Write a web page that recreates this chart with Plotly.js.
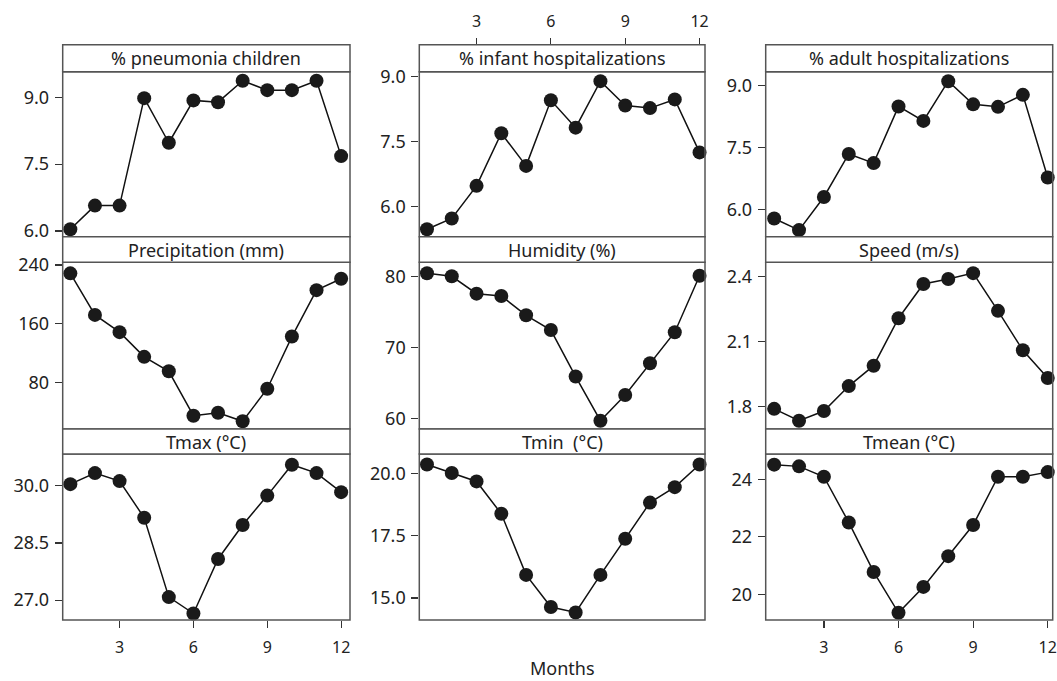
<!DOCTYPE html>
<html>
<head>
<meta charset="utf-8">
<script src="https://cdn.plot.ly/plotly-3.0.1.min.js"></script>
<style>html,body{margin:0;padding:0;background:#fff;}#chart{width:1057px;height:681px;}</style>
</head>
<body>
<div id="chart"></div>
<script>
// ---- data ----
const months = [1, 2, 3, 4, 5, 6, 7, 8, 9, 10, 11, 12];
const pneumoniaChildren = [6.04, 6.57, 6.57, 8.98, 7.98, 8.93, 8.89, 9.37, 9.16, 9.16, 9.37, 7.68];
const infantHosp = [5.48, 5.73, 6.48, 7.69, 6.94, 8.45, 7.82, 8.89, 8.33, 8.27, 8.47, 7.25];
const adultHosp = [5.78, 5.50, 6.30, 7.34, 7.12, 8.49, 8.14, 9.10, 8.54, 8.48, 8.77, 6.77];
const precipitation = [228.7, 172.2, 148.7, 115.1, 95.5, 35.1, 39.2, 27.5, 71.8, 142.7, 205.8, 221.4];
const humidity = [80.48, 80.05, 77.6, 77.27, 74.55, 72.46, 65.9, 59.66, 63.29, 67.78, 72.16, 80.14];
const speed = [1.79, 1.735, 1.78, 1.895, 1.989, 2.208, 2.366, 2.389, 2.416, 2.242, 2.06, 1.932];
const tmax = [30.04, 30.33, 30.12, 29.16, 27.08, 26.65, 28.08, 28.97, 29.74, 30.55, 30.33, 29.83];
const tmin = [20.36, 20.02, 19.68, 18.38, 15.93, 14.64, 14.42, 15.93, 17.38, 18.83, 19.45, 20.36];
const tmean = [24.51, 24.45, 24.09, 22.5, 20.78, 19.36, 20.26, 21.33, 22.41, 24.09, 24.09, 24.25];

const panelTitles = ["% pneumonia children", "% infant hospitalizations", "% adult hospitalizations",
  "Precipitation (mm)", "Humidity (%)", "Speed (m/s)",
  "Tmax (°C)", "Tmin\u00a0 (°C)", "Tmean (°C)"];
const xTickVals = [3, 6, 9, 12];
const xTickText = ["3", "6", "9", "12"];
const yTickVals = [
  [6, 7.5, 9], [6, 7.5, 9], [6, 7.5, 9],
  [80, 160, 240], [60, 70, 80], [1.8, 2.1, 2.4],
  [27, 28.5, 30], [15, 17.5, 20], [20, 22, 24]];
const yTickText = [
  ["6.0", "7.5", "9.0"], ["6.0", "7.5", "9.0"], ["6.0", "7.5", "9.0"],
  ["80", "160", "240"], ["60", "70", "80"], ["1.8", "2.1", "2.4"],
  ["27.0", "28.5", "30.0"], ["15.0", "17.5", "20.0"], ["20", "22", "24"]];
const xAxisTitle = "Months";

// ---- layout geometry ----
const W = 1057, H = 681;
const series = [pneumoniaChildren, infantHosp, adultHosp, precipitation, humidity, speed, tmax, tmin, tmean];
const yRanges = [[5.872, 9.574], [5.31, 9.108], [5.34, 9.33], [17, 243.7], [58.49, 82.03], [1.697, 2.466],
  [26.48, 30.83], [14.12, 20.78], [19.11, 24.88]];
const colPx = [[62.7, 350], [419.3, 705], [765.7, 1052.7]];
const xRanges = [[0.69, 12.36], [0.69, 12.22], [0.66, 12.2]];
const rowPx = [[71.7, 236.7], [262.3, 429], [454, 620]];
const stripPx = [[44.7, 71.7], [236.7, 262.3], [429, 454]];
const FONT = "Noto Sans, sans-serif";
const TXT = "#222";
const BORDER = "#555";

const px = v => v / W;
const py = v => 1 - v / H;

const traces = [];
const layout = {
  width: W, height: H,
  margin: {l: 0, r: 0, t: 0, b: 0},
  paper_bgcolor: "#fff", plot_bgcolor: "rgba(0,0,0,0)",
  showlegend: false,
  font: {family: FONT, size: 18, color: TXT},
  shapes: [], annotations: []
};

for (let i = 0; i < 9; i++) {
  const row = Math.floor(i / 3), col = i % 3;
  const n = i === 0 ? "" : String(i + 1);
  traces.push({
    x: months, y: series[i], xaxis: "x" + n, yaxis: "y" + n,
    type: "scatter", mode: "lines+markers", cliponaxis: false,
    line: {color: "#111", width: 1.5},
    marker: {color: "#1a1a1a", size: 14}
  });
  const showX = (row === 2 && col !== 1) || (row === 0 && col === 1);
  const xa = {
    domain: [px(colPx[col][0]), px(colPx[col][1])],
    anchor: "y" + n, range: xRanges[col],
    tickvals: xTickVals, ticktext: xTickText,
    showgrid: false, zeroline: false, showline: false,
    ticks: showX ? "outside" : "", ticklen: 7, tickwidth: 1.2, tickcolor: "#333",
    ticklabelstandoff: 6,
    showticklabels: showX, tickfont: {family: FONT, size: 16, color: TXT}
  };
  if (row === 0 && col === 1) {
    xa.anchor = "free";
    xa.position = py(stripPx[0][0]);
    xa.side = "top";
    xa.ticklabelstandoff = 4;
  }
  layout["xaxis" + n] = xa;
  layout["yaxis" + n] = {
    domain: [py(rowPx[row][1]), py(rowPx[row][0])],
    anchor: "x" + n, range: yRanges[i],
    tickvals: yTickVals[i], ticktext: yTickText[i],
    showgrid: false, zeroline: false, showline: false,
    ticks: "outside", ticklen: 7, tickwidth: 1.2, tickcolor: "#333",
    ticklabelstandoff: 2,
    tickfont: {family: FONT, size: 18, color: TXT}
  };
  // panel border
  layout.shapes.push({type: "rect", xref: "paper", yref: "paper",
    x0: px(colPx[col][0]), x1: px(colPx[col][1]), y0: py(rowPx[row][1]), y1: py(rowPx[row][0]),
    line: {color: BORDER, width: 1.5}, fillcolor: "rgba(0,0,0,0)", layer: "above"});
  // strip
  layout.shapes.push({type: "rect", xref: "paper", yref: "paper",
    x0: px(colPx[col][0]), x1: px(colPx[col][1]), y0: py(stripPx[row][1]), y1: py(stripPx[row][0]),
    line: {color: BORDER, width: 1.5}, fillcolor: "#fff", layer: "above"});
  layout.annotations.push({xref: "paper", yref: "paper",
    x: px((colPx[col][0] + colPx[col][1]) / 2), y: py((stripPx[row][0] + stripPx[row][1]) / 2),
    text: panelTitles[i], showarrow: false, xanchor: "center", yanchor: "middle",
    font: {family: FONT, size: 18, color: TXT}});
}
layout.annotations.push({xref: "paper", yref: "paper", x: px(562), y: py(668),
  text: xAxisTitle, showarrow: false, xanchor: "center", yanchor: "middle",
  font: {family: FONT, size: 18, color: TXT}});

Plotly.newPlot("chart", traces, layout, {displayModeBar: false, staticPlot: true});
</script>
</body>
</html>
